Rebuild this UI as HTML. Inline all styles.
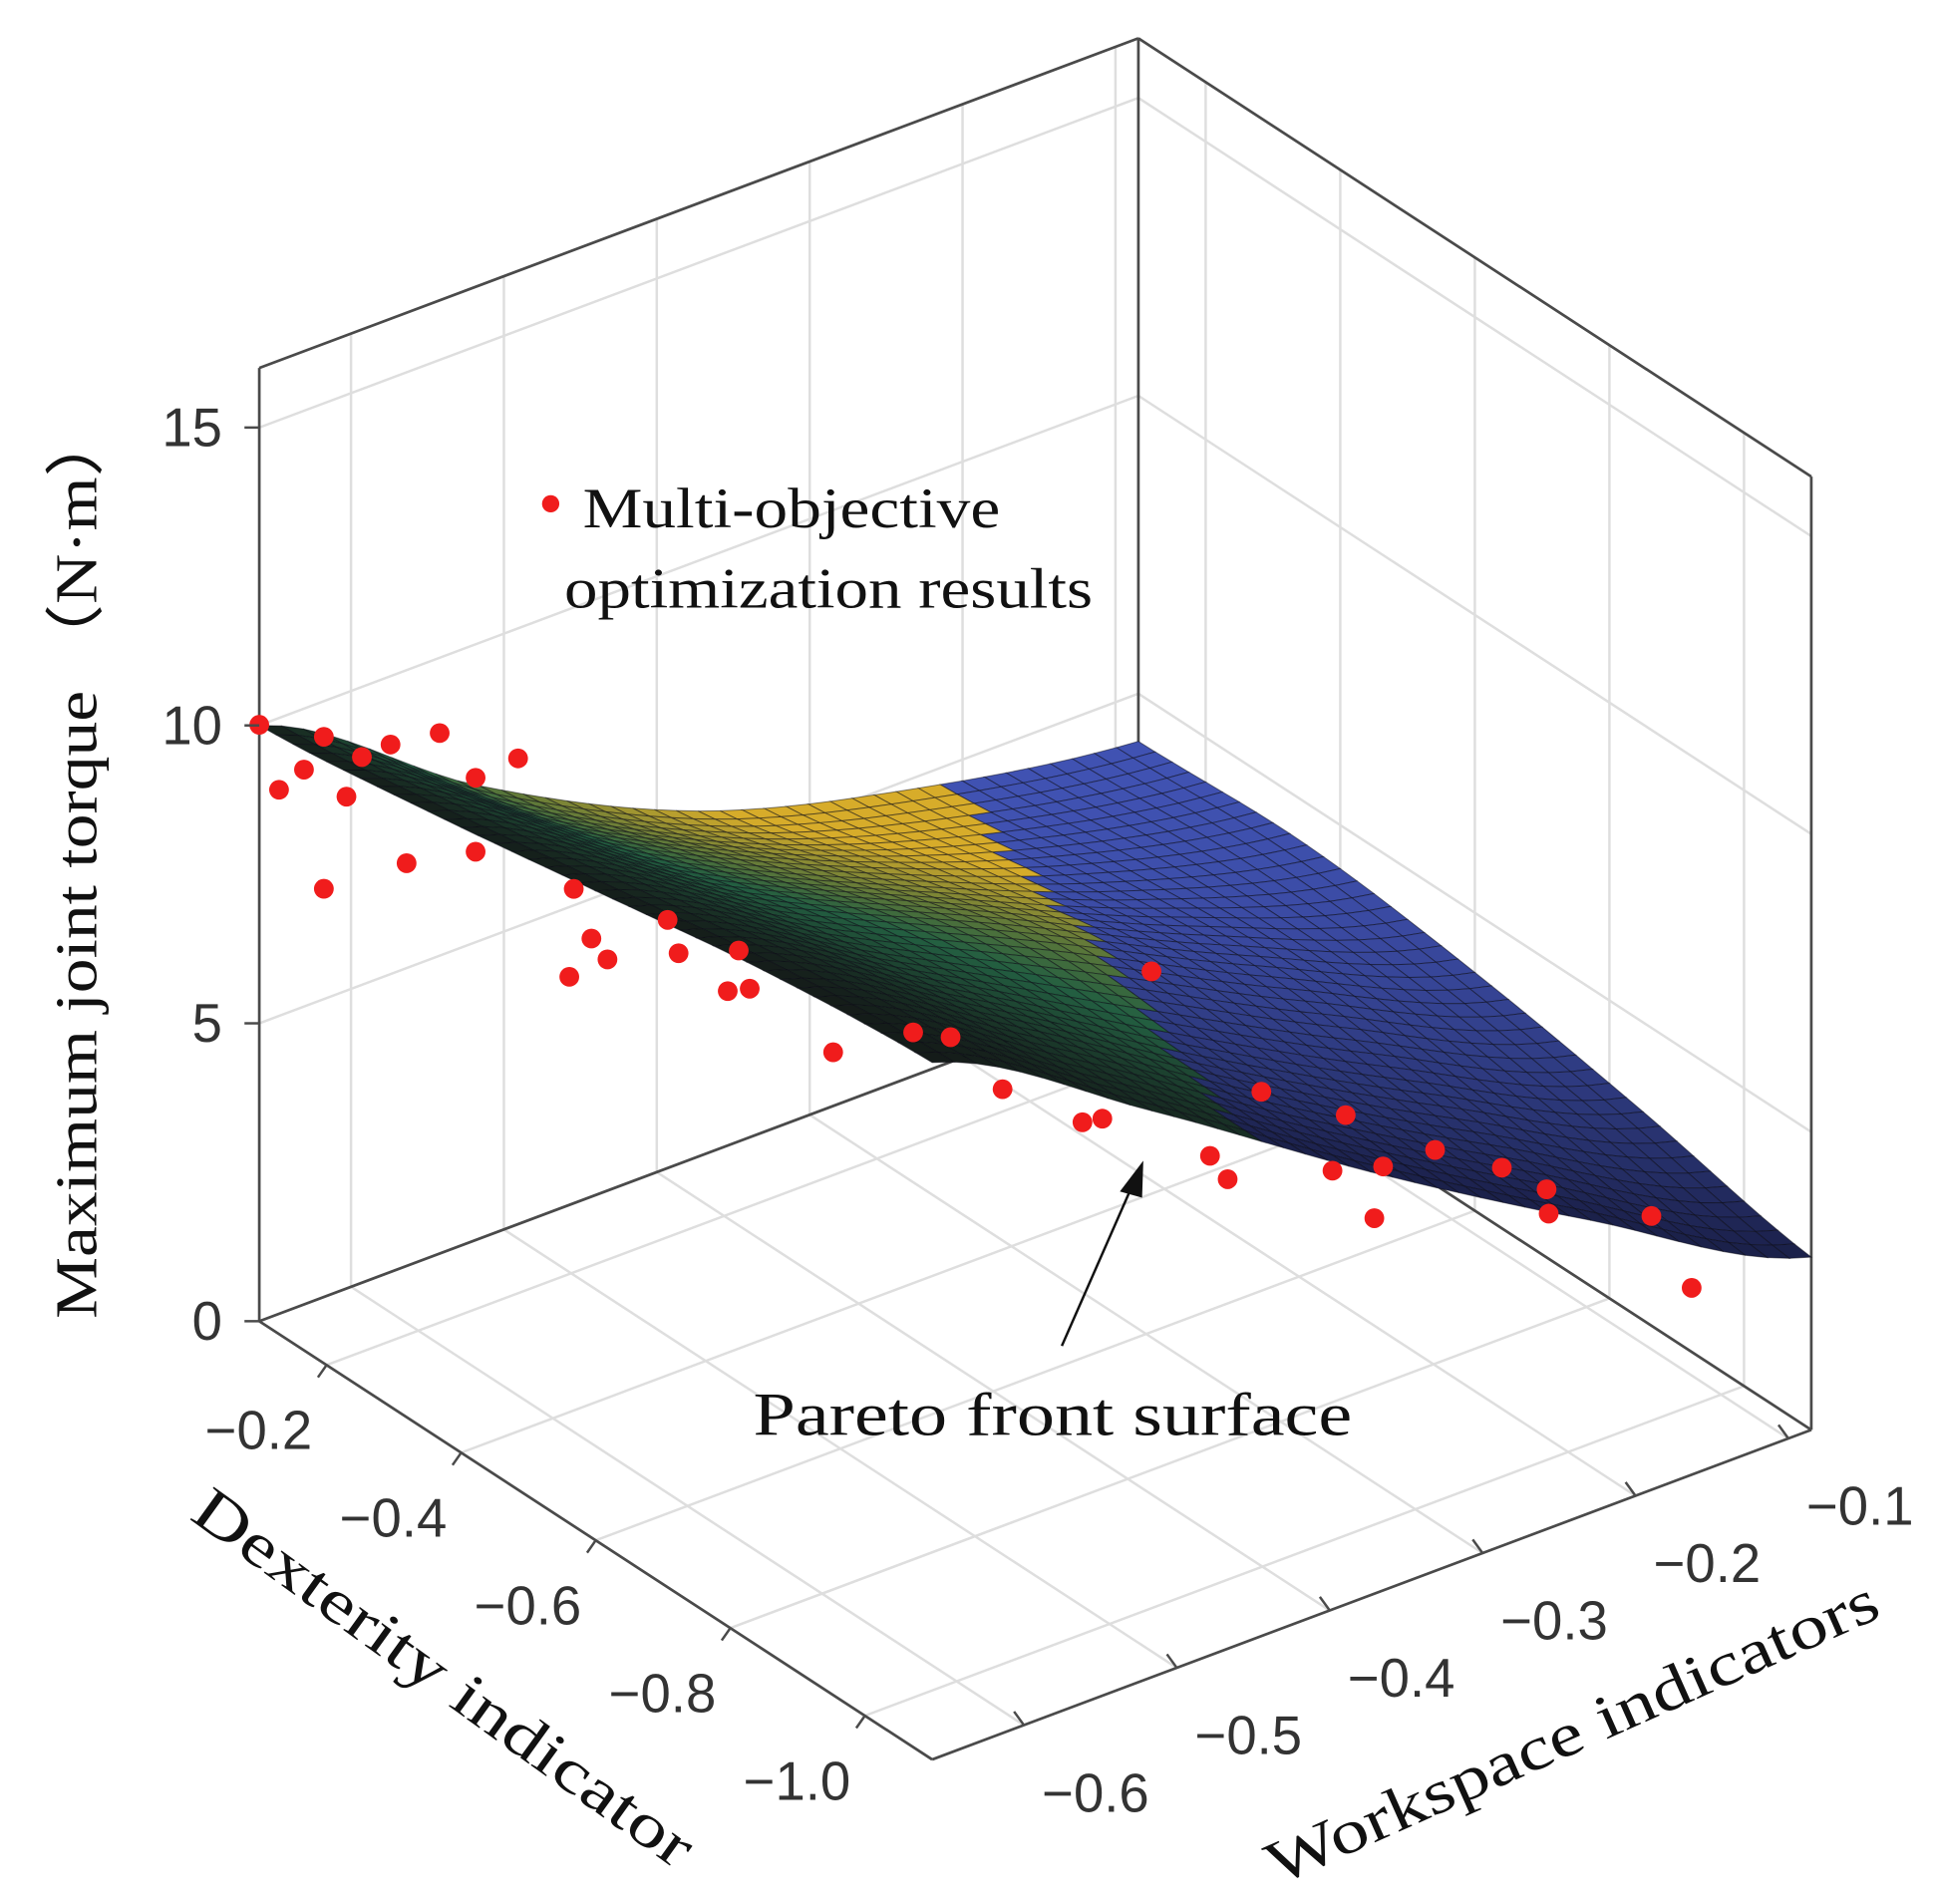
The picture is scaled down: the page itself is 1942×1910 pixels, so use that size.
<!DOCTYPE html>
<html><head><meta charset="utf-8"><style>
html,body{margin:0;padding:0;background:#fff;}
svg{display:block;}
</style></head><body>
<svg id="chart" width="1942" height="1910" viewBox="0 0 1568 1542" preserveAspectRatio="none" xmlns="http://www.w3.org/2000/svg">
<g id="grid"></g>
<g id="box"></g>
<g id="surface"></g>
<g id="dots"></g>
<g id="ticks"></g>
<text transform="translate(78,699) rotate(-90)" text-anchor="middle" font-family="Liberation Serif, serif" font-size="48" fill="#111" textLength="738" lengthAdjust="spacingAndGlyphs">Maximum joint torque （N·m）</text>
<text transform="translate(350,1372) rotate(35.8)" text-anchor="middle" font-family="Liberation Serif, serif" font-size="50" fill="#111" textLength="487" lengthAdjust="spacingAndGlyphs">Dexterity indicator</text>
<text transform="translate(1280,1418) rotate(-24)" text-anchor="middle" font-family="Liberation Serif, serif" font-size="50" fill="#111" textLength="537" lengthAdjust="spacingAndGlyphs">Workspace indicators</text>
<g>
<circle cx="446" cy="408" r="7" fill="#f01c1c"/>
<text font-family="Liberation Serif, serif" font-size="46" fill="#111"><tspan x="472" y="427" textLength="338" lengthAdjust="spacingAndGlyphs">Multi-objective</tspan><tspan x="457" y="492" textLength="428" lengthAdjust="spacingAndGlyphs">optimization results</tspan></text>
</g>
<text x="610" y="1162" font-family="Liberation Serif, serif" font-size="50" fill="#111" textLength="485" lengthAdjust="spacingAndGlyphs">Pareto front surface</text>
<line x1="860" y1="1090" x2="918" y2="958" stroke="#111" stroke-width="2"/>
<polygon points="926,940 907,965 925,970" fill="#111"/>
</svg>
<script>
// axis domains
const dexDomain = [-0.1, -1.1];
const wsDomain = [-0.66, -0.085];
const zDomain = [0, 16];
const dexTicks = [-0.2, -0.4, -0.6, -0.8, -1.0];
const dexTickLabels = ["\u22120.2", "\u22120.4", "\u22120.6", "\u22120.8", "\u22121.0"];
const wsTicks = [-0.6, -0.5, -0.4, -0.3, -0.2, -0.1];
const wsTickLabels = ["\u22120.6", "\u22120.5", "\u22120.4", "\u22120.3", "\u22120.2", "\u22120.1"];
const zTicks = [0, 5, 10, 15];
const zTickLabels = ["0", "5", "10", "15"];
// surface grid
const surfDex = [-0.1, -0.35, -0.6, -0.85, -1.1];
const surfWs = [-0.66, -0.516, -0.373, -0.229, -0.085];
const surfZ = [
 [10.0, 7.6, 5.8, 4.8, 4.2],
 [10.4, 8.3, 6.6, 5.2, 4.3],
 [10.9, 9.0, 7.3, 5.5, 4.0],
 [11.4, 9.4, 7.2, 5.2, 3.5],
 [11.7, 9.5, 7.1, 4.9, 2.9]
];
// scatter points
const ptDex = [-0.1,-0.109,-0.121,-0.130,-0.141,-0.148,-0.161,-0.130,-0.169,-0.184,-0.201,-0.201,-0.221,-0.247,-0.255,-0.245,-0.263,-0.296,-0.291,-0.319,-0.329,-0.324,-0.369,-0.406,-0.423,-0.448,-0.485,-0.494,-0.517,-0.545,-0.553,-0.569,-0.608,-0.602,-0.625,-0.621,-0.650,-0.681,-0.702,-0.703,-0.751,-0.770];
const ptWs = [-0.66,-0.651,-0.640,-0.631,-0.621,-0.614,-0.601,-0.631,-0.594,-0.579,-0.563,-0.563,-0.544,-0.519,-0.511,-0.521,-0.504,-0.472,-0.477,-0.450,-0.440,-0.445,-0.403,-0.367,-0.350,-0.327,-0.291,-0.282,-0.260,-0.234,-0.226,-0.211,-0.173,-0.179,-0.156,-0.160,-0.133,-0.103,-0.083,-0.082,-0.036,-0.018];
const ptTorque = [10.01,8.90,9.22,9.75,8.73,9.38,9.56,7.20,7.56,9.71,8.93,7.69,9.22,6.98,6.13,5.51,5.77,5.81,6.38,5.13,5.15,5.80,4.02,4.28,4.16,3.25,2.62,2.66,5.09,1.95,1.54,2.98,2.51,1.59,1.61,0.75,1.85,1.49,1.09,0.68,0.55,-0.69];

const NS = "http://www.w3.org/2000/svg";
const O = [210, 1070], DU = [545, 355], DV = [712, -267], ZH = 772;
function uOf(d){return (d - dexDomain[0])/(dexDomain[1]-dexDomain[0]);}
function vOf(w){return (w - wsDomain[0])/(wsDomain[1]-wsDomain[0]);}
function proj(d, w, z){
  const u = uOf(d), v = vOf(w), t = (z - zDomain[0])/(zDomain[1]-zDomain[0]);
  return [O[0] + u*DU[0] + v*DV[0], O[1] + u*DU[1] + v*DV[1] - t*ZH];
}
function mk(tag, attrs, parent){
  const e = document.createElementNS(NS, tag);
  for (const k in attrs) e.setAttribute(k, attrs[k]);
  parent.appendChild(e); return e;
}
function line(p, q, stroke, sw, parent){
  return mk('line', {x1:p[0], y1:p[1], x2:q[0], y2:q[1], stroke:stroke, 'stroke-width':sw}, parent);
}
const D0 = dexDomain[0], D1 = dexDomain[1], W0 = wsDomain[0], W1 = wsDomain[1], Z0 = zDomain[0], Z1 = zDomain[1];
const grid = document.getElementById('grid');
const gc = '#dedede';
wsTicks.forEach(w => { const l = line(proj(D0,w,Z0), proj(D0,w,Z1), gc, 2, grid);

 });
zTicks.forEach(z => { const l = line(proj(D0,W0,z), proj(D0,W1,z), gc, 2, grid);


const l2 = line(proj(D0,W1,z), proj(D1,W1,z), gc, 2, grid);

 });
dexTicks.forEach(d => { const l = line(proj(d,W1,Z0), proj(d,W1,Z1), gc, 2, grid);


const l2 = line(proj(d,W0,Z0), proj(d,W1,Z0), gc, 2, grid);

 });
wsTicks.forEach(w => { const l = line(proj(D0,w,Z0), proj(D1,w,Z0), gc, 2, grid);

 });

const box = document.getElementById('box');
const bc = '#4a4a4a';
[[[D0,W0,Z0],[D0,W0,Z1]],[[D0,W1,Z0],[D0,W1,Z1]],[[D1,W1,Z0],[D1,W1,Z1]],
 [[D0,W0,Z1],[D0,W1,Z1]],[[D0,W1,Z1],[D1,W1,Z1]],
 [[D0,W0,Z0],[D0,W1,Z0]],[[D0,W1,Z0],[D1,W1,Z0]],
 [[D0,W0,Z0],[D1,W0,Z0]],[[D1,W0,Z0],[D1,W1,Z0]]].forEach(e => {
  const l = line(proj(...e[0]), proj(...e[1]), bc, 2.2, box);
  
  
});

const tk = document.getElementById('ticks');
const tf = {'font-family':'Liberation Sans, sans-serif','font-size':44,fill:'#333'};
zTicks.forEach((z,i) => { const p = proj(D0,W0,z);
  const l = line(p, [p[0]-12, p[1]+0], bc, 2, tk);
  
  
  const t = mk('text', Object.assign({x:p[0]-30, y:p[1]+15, 'text-anchor':'end'}, tf), tk);
  t.textContent = zTickLabels[i];
  
   });
dexTicks.forEach((d,i) => { const p = proj(d,W0,Z0);
  const l = line(p, [p[0]-7, p[1]+10], bc, 2, tk);
  
  
  const t = mk('text', Object.assign({x:p[0]-55, y:p[1]+68, 'text-anchor':'middle'}, tf), tk);
  t.textContent = dexTickLabels[i];
  
   });
wsTicks.forEach((w,i) => { const p = proj(D1,w,Z0);
  const l = line(p, [p[0]-8, p[1]-11], bc, 2, tk);
  
  
  const t = mk('text', Object.assign({x:p[0]+58, y:p[1]+70, 'text-anchor':'middle'}, tf), tk);
  t.textContent = wsTickLabels[i];
  
   });

// smooth interpolation of the surface grid
function cr(arr, f){
  const n = arr.length-1; const x = Math.min(Math.max(f*n,0),n);
  const i = Math.min(Math.floor(x), n-1); const t = x-i;
  const p0 = arr[Math.max(i-1,0)], p1 = arr[i], p2 = arr[i+1], p3 = arr[Math.min(i+2,n)];
  return 0.5*((2*p1) + (-p0+p2)*t + (2*p0-5*p1+4*p2-p3)*t*t + (-p0+3*p1-3*p2+p3)*t*t*t);
}
function zAt(fu, fv){
  const col = surfZ.map(row => cr(row, fv));
  return cr(col, fu);
}
function lin(arr, f){ const n = arr.length-1; const x = f*n; const i = Math.min(Math.floor(x), n-1); const r = x-i; return arr[i]*(1-r)+arr[i+1]*r; }
const surf = document.getElementById('surface');
const N = 40, quads = [];
for (let i=0;i<N;i++) for (let j=0;j<N;j++) quads.push([i,j]);
function isYellow(fu, fv){ return fv < 0.79 - 0.43*fu; }
quads.sort((a,b)=>{
  const ya = isYellow((a[0]+.5)/N,(a[1]+.5)/N)?1:0, yb = isYellow((b[0]+.5)/N,(b[1]+.5)/N)?1:0;
  if (ya!==yb) return ya-yb;
  return (a[0]-a[1]) - (b[0]-b[1]);
});
function mix(c1,c2,t){ return 'rgb('+c1.map((c,k)=>Math.round(c+(c2[k]-c)*t)).join(',')+')'; }
quads.forEach(([i,j]) => {
  const pts = [[i,j],[i+1,j],[i+1,j+1],[i,j+1]].map(([a,b]) => {
    const fu=a/N, fv=b/N;
    return proj(lin(surfDex, fu), lin(surfWs, fv), zAt(fu,fv));
  });
  const fu=(i+0.5)/N, fv=(j+0.5)/N;
  let col;
  if (isYellow(fu,fv)) {
    const t = Math.max(0, Math.min(1, Math.pow(fv/0.75,0.8) * (1 - 0.85*fu)));
    col = t < 0.3 ? mix([20,26,24],[35,95,65],t/0.3) : mix([35,95,65],[215,172,42],Math.min(1,(t-0.3)/0.45));
  } else {
    col = mix([64,82,178],[22,26,60], Math.pow(fu,2)*0.9);
  }
  const p = mk('polygon', {points: pts.map(q=>q[0].toFixed(1)+','+q[1].toFixed(1)).join(' '), fill:col, stroke:'rgba(10,10,20,0.5)', 'stroke-width':0.8}, surf);
  
  
});

const dots = document.getElementById('dots');
ptDex.forEach((d,i) => {
  const p = proj(d, ptWs[i], ptTorque[i]);
  const c = mk('circle', {cx:p[0].toFixed(1), cy:p[1].toFixed(1), r:8, fill:'#f01c1c'}, dots);
  
  
});
</script>
</body></html>
